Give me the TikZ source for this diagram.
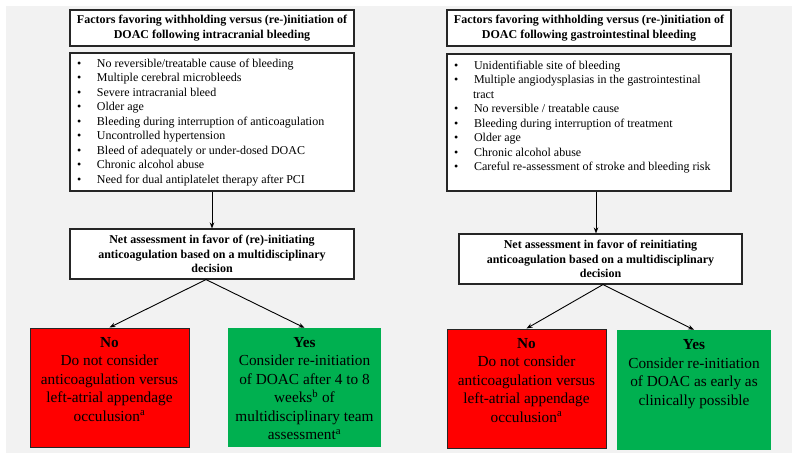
\documentclass[tikz,border=0pt]{standalone}
\usepackage{fontspec}
\setmainfont{Liberation Serif}
\usetikzlibrary{arrows.meta}

\definecolor{bggray}{HTML}{F2F2F2}
\definecolor{nored}{HTML}{FF0000}
\definecolor{yesgreen}{HTML}{00B050}

% box with text on top
\newcommand{\topbox}[3]{\parbox[c][#1][t]{#2}{#3}}
\newcommand{\factor}[1]{\hspace*{7pt}\makebox[20pt][l]{\textbullet}#1\par}

\begin{document}
\begin{tikzpicture}[x=1pt, y=-1pt,
	frame/.style={draw=black!85, line width=1.1pt, fill=white, inner sep=0pt},
	titlebox/.style={frame, minimum width=284pt, minimum height=36pt, align=center,
		font=\fontsize{12}{15}\selectfont\bfseries},
	listbox/.style={frame, align=left, font=\fontsize{12}{14.5}\selectfont},
	netbox/.style={frame, minimum height=50pt, align=center,
		font=\fontsize{12}{14.5}\selectfont\bfseries},
	nobox/.style={draw=black!85, line width=1pt, fill=nored, inner sep=0pt, align=center,
		font=\fontsize{15.3}{18.5}\selectfont},
	yesbox/.style={fill=yesgreen, inner sep=0pt, align=center,
		font=\fontsize{15.3}{18.5}\selectfont},
	link/.style={line width=0.9pt, -{Stealth[length=6pt, width=4.5pt]}}]

	\useasboundingbox (0, 0) rectangle (799, 461);
	\fill[bggray] (6, 6) rectangle (792, 453);

	% intracranial
	\node[titlebox] (ltitle) at (212, 28) {Factors favoring withholding versus (re-)initiation of\\DOAC following intracranial bleeding};
	\node[listbox] (llist) at (212, 122) {\topbox{138pt}{284pt}{\vspace*{6pt}
		\factor{No reversible/treatable cause of bleeding}
		\factor{Multiple cerebral microbleeds}
		\factor{Severe intracranial bleed}
		\factor{Older age}
		\factor{Bleeding during interruption of anticoagulation}
		\factor{Uncontrolled hypertension}
		\factor{Bleed of adequately or under-dosed DOAC}
		\factor{Chronic alcohol abuse}
		\factor{Need for dual antiplatelet therapy after PCI}}};
	\node[netbox, minimum width=284pt] (lnet) at (212, 254) {Net assessment in favor of (re)-initiating\\anticoagulation based on a multidisciplinary\\decision};
	\node[nobox] (lno) at (109.5, 387.5) {\topbox{119pt}{159pt}{\centering\vspace*{9pt}
		\textbf{No}\\Do not consider\\anticoagulation versus\\left-atrial appendage\\occulusion\textsuperscript{a}}};
	\node[yesbox] (lyes) at (304.5, 387.5) {\topbox{119pt}{153pt}{\centering\vspace*{9pt}
		\textbf{Yes}\\Consider re-initiation\\of DOAC after 4 to 8\\weeks\textsuperscript{b} of\\multidisciplinary team\\assessment\textsuperscript{a}}};

	\draw[link] (llist.south) -- (lnet.north);
	\draw[link] ([xshift=-6pt]lnet.south) -- (lno.north);
	\draw[link] ([xshift=-6pt]lnet.south) -- (lyes.north);

	% gastrointestinal
	\node[titlebox] (rtitle) at (589, 28) {Factors favoring withholding versus (re-)initiation of\\DOAC following gastrointestinal bleeding};
	\node[listbox] (rlist) at (589, 122.5) {\topbox{137pt}{284pt}{\vspace*{7pt}
		\factor{Unidentifiable site of bleeding}
		\factor{Multiple angiodysplasias in the gastrointestinal}
		\hspace*{26pt}tract\par
		\factor{No reversible / treatable cause}
		\factor{Bleeding during interruption of treatment}
		\factor{Older age}
		\factor{Chronic alcohol abuse}
		\factor{Careful re-assessment of stroke and bleeding risk}}};
	\node[netbox, minimum width=283pt] (rnet) at (600.5, 259) {Net assessment in favor of reinitiating\\anticoagulation based on a multidisciplinary\\decision};
	\node[nobox] (rno) at (526.5, 388.5) {\topbox{119pt}{159pt}{\centering\vspace*{9pt}
		\textbf{No}\\Do not consider\\anticoagulation versus\\left-atrial appendage\\occulusion\textsuperscript{a}}};
	\node[yesbox] (ryes) at (694, 390) {\topbox{120pt}{154pt}{\centering\vspace*{9.5pt}
		\textbf{Yes}\\Consider re-initiation\\of DOAC as early as\\clinically possible}};

	\draw[link] ([xshift=7pt]rlist.south) -- ([xshift=7pt]rlist.south |- rnet.north);
	\draw[link] ([xshift=2.5pt]rnet.south) -- (rno.north);
	\draw[link] ([xshift=2.5pt]rnet.south) -- (ryes.north);
\end{tikzpicture}
\end{document}
